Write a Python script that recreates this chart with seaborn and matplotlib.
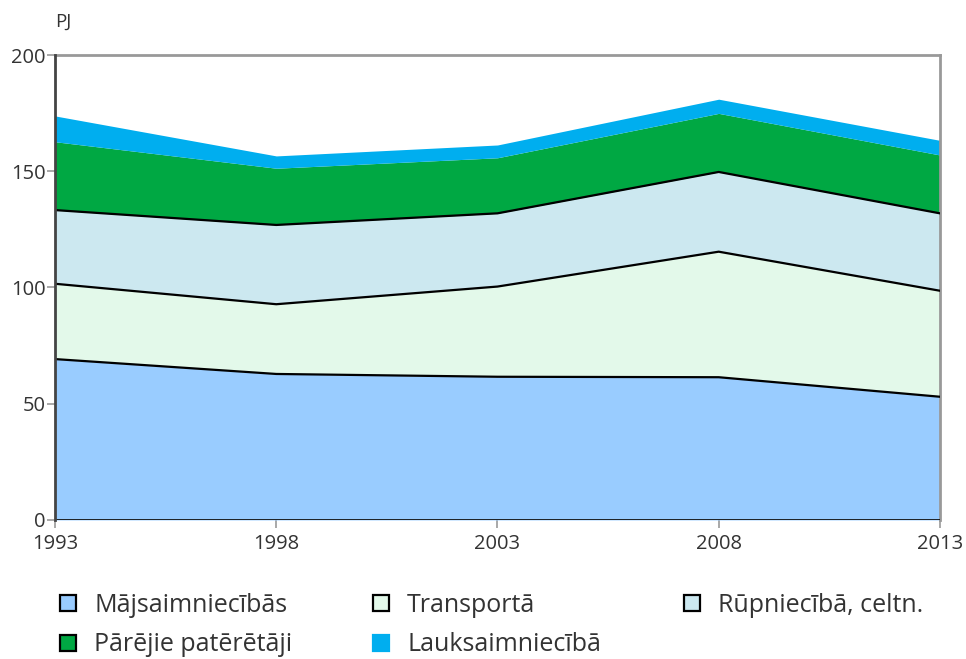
import numpy as np
import pandas as pd
import seaborn as sns
import matplotlib.pyplot as plt
from matplotlib.lines import Line2D

# Data (PJ)
years = [1993, 1998, 2003, 2008, 2013]
majsaimniecibas = [69.2, 62.8, 61.6, 61.4, 53.0]
transports = [32.4, 30.0, 38.8, 54.0, 45.6]
rupnieciba = [31.7, 34.1, 31.5, 34.3, 33.3]
parejie = [29.4, 24.4, 23.9, 25.2, 25.1]
lauksaimnieciba = [11.1, 5.3, 5.5, 6.1, 6.3]

labels = ['Mājsaimniecībās', 'Transportā', 'Rūpniecībā, celtn.',
          'Pārējie patērētāji', 'Lauksaimniecībā']
colors = ['#99ccff', '#e3f9ea', '#cce8f0', '#00a843', '#00aeef']

df = pd.DataFrame({'year': years,
                   labels[0]: majsaimniecibas,
                   labels[1]: transports,
                   labels[2]: rupnieciba,
                   labels[3]: parejie,
                   labels[4]: lauksaimnieciba})

sns.set_style("white")
plt.rcParams['font.family'] = ['Open Sans', 'DejaVu Sans']

fig = plt.figure(figsize=(9.66, 6.59), dpi=100)
ax = fig.add_axes([0.057, 0.211, 0.916, 0.7055])

# stacked areas
bottom = np.zeros(len(years))
for lab, col in zip(labels, colors):
    top = bottom + df[lab].values
    ax.fill_between(df['year'], bottom, top, color=col, linewidth=0, zorder=1)
    bottom = top

# black boundary lines on top of the first three series
cum = df[labels[:3]].cumsum(axis=1)
for lab in labels[:3]:
    sns.lineplot(x=df['year'], y=cum[lab], ax=ax, color='black', lw=1.6, zorder=3)
ax.axhline(0, color='#111111', lw=2.0, zorder=3)

ax.set_xlim(1993, 2013)
ax.set_ylim(0, 200)
ax.set_xticks(years)
ax.set_yticks([0, 50, 100, 150, 200])
ax.set_xlabel('')
ax.set_ylabel('')
ax.tick_params(axis='both', which='both', length=6, width=1.2, color='#999999',
               labelsize=14.5, labelcolor='#333333', direction='out', bottom=True, left=True)
ax.tick_params(axis='y', pad=1)
ax.tick_params(axis='x', pad=4)
for s in ['left', 'top', 'right']:
    ax.spines[s].set_color('#999999')
    ax.spines[s].set_linewidth(2)
ax.spines['bottom'].set_visible(False)
ax.spines['left'].set_color('#444444')
ax.spines['left'].set_zorder(4)

fig.text(0.057, 0.967, 'PJ', fontsize=13.5, color='#333333', ha='left', va='center')

# legend: three columns placed by hand
def handle(col, edge):
    return Line2D([], [], marker='s', linestyle='none', markersize=12,
                  markerfacecolor=col, markeredgecolor=edge, markeredgewidth=1.6)

columns = [
    (0.047, [0, 3]),
    (0.371, [1, 4]),
    (0.693, [2]),
]
for x0, idx in columns:
    hs = [handle(colors[i], 'black' if i < 4 else colors[i]) for i in idx]
    fig.legend(hs, [labels[i] for i in idx], loc='upper left',
               bbox_to_anchor=(x0, 0.1155), frameon=False, fontsize=18,
               labelcolor='#333333', handletextpad=0.55, labelspacing=0.58,
               borderaxespad=0, handlelength=1.0)

plt.savefig('out.png', dpi=100)
